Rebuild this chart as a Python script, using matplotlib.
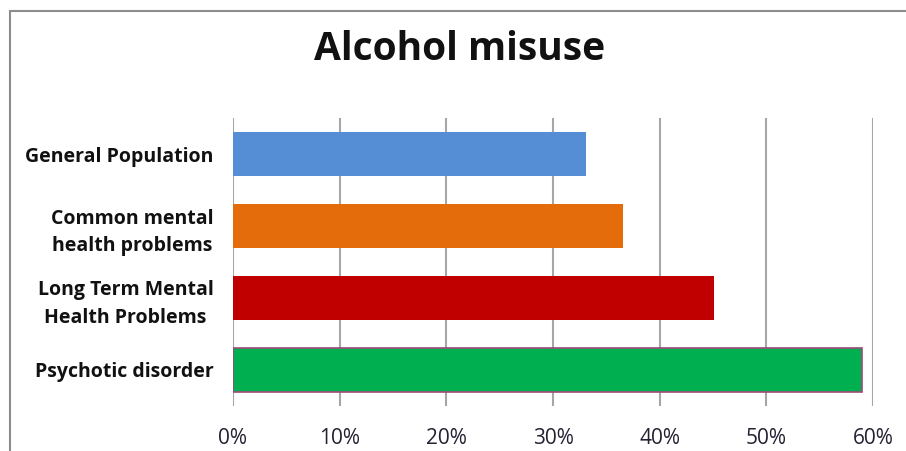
import matplotlib.pyplot as plt
from matplotlib.patches import Rectangle

categories = ["General Population", "Common mental\nhealth problems",
              "Long Term Mental\nHealth Problems", "Psychotic disorder"]
values = [33.1, 36.6, 45.1, 59.0]
colors = ["#558ED5", "#E46C0A", "#C00000", "#00B050"]
edges = ["none", "none", "none", "#9E4A7A"]
xticks = [0, 10, 20, 30, 40, 50, 60]

plt.rcParams["font.family"] = ["Open Sans", "DejaVu Sans"]

fig = plt.figure(figsize=(9.06, 4.51), dpi=100)
# chart border (right/bottom fall outside the picture)
fig.patches.append(Rectangle((9.5 / 906, -0.1), 1.2, 1 - 11 / 451 + 0.1,
                             transform=fig.transFigure, fill=False,
                             edgecolor="#8c8c8c", linewidth=1.5))

ax = fig.add_axes([233 / 906, 1 - 406 / 451, (873 - 233) / 906, (406 - 118) / 451])
y = range(len(categories))
ax.barh(y, values, height=0.6, color=colors, edgecolor=edges, linewidth=1.2, zorder=3)
ax.set_ylim(len(categories) - 0.5, -0.5)
ax.set_xlim(0, 60)
ax.set_xticks(xticks)
ax.set_xticklabels([f"{t}%" for t in xticks], fontsize=15, color="#222233")
ax.set_yticks(list(y))
ax.set_yticklabels(categories, fontsize=14, fontweight="bold", color="#111111",
                   multialignment="center", linespacing=1.5)
ax.tick_params(length=0)
ax.tick_params(axis="x", pad=16)
ax.tick_params(axis="y", pad=14)
ax.grid(axis="x", color="#a6a6a6", linewidth=1.5, zorder=0)
for s in ax.spines.values():
    s.set_visible(False)

fig.text(460 / 906, 1 - 50 / 451, "Alcohol misuse", ha="center", va="center",
         fontsize=28, fontweight="bold", color="#111111")

fig.savefig("out.png", dpi=100)
